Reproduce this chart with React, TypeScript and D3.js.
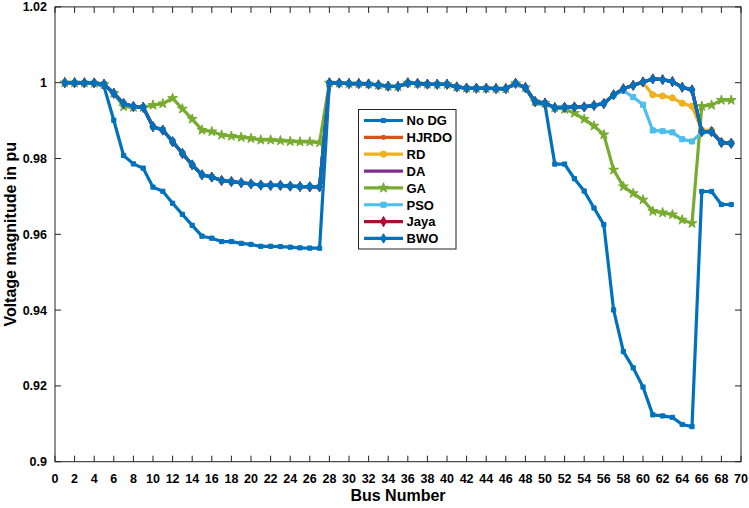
import React from "react";
import * as d3 from "d3";

const BUS: number[] = Array.from({ length: 69 }, (_, i) => i + 1);

const X_TICKS: number[] = [0,2,4,6,8,10,12,14,16,18,20,22,24,26,28,30,32,34,36,38,40,42,44,46,48,50,52,54,56,58,60,62,64,66,68,70];
const Y_TICKS: number[] = [0.9, 0.92, 0.94, 0.96, 0.98, 1, 1.02];
const Y_TICK_LABELS: string[] = ["0.9", "0.92", "0.94", "0.96", "0.98", "1", "1.02"];

const NO_DG = [
  1.0, 0.99997, 0.99993, 0.99984, 0.99902, 0.99009, 0.98079, 0.97858, 0.97745, 0.97245,
  0.97135, 0.96819, 0.96526, 0.96237, 0.9595, 0.95897, 0.95809, 0.95808, 0.95761, 0.95732,
  0.95683, 0.95683, 0.95676, 0.9566, 0.95643, 0.95636, 0.95634, 0.99993, 0.99985, 0.99973,
  0.99971, 0.99961, 0.99935, 0.99901, 0.99895, 0.99992, 0.99975, 0.99959, 0.99954, 0.99954,
  0.99884, 0.99855, 0.99851, 0.9985, 0.99841, 0.9984, 0.99979, 0.99854, 0.9947, 0.99415,
  0.97854, 0.97853, 0.97466, 0.97142, 0.96694, 0.96256, 0.94005, 0.92904, 0.92476, 0.91971,
  0.91236, 0.91207, 0.91169, 0.90982, 0.90925, 0.97129, 0.97129, 0.96786, 0.96786,
];

const HJRDO = [
  1.0, 0.99998, 0.99996, 0.99993, 0.9996, 0.9972, 0.9945, 0.9937, 0.9935, 0.9884,
  0.9875, 0.9845, 0.9814, 0.9783, 0.9757, 0.9751, 0.9742, 0.9739, 0.9736, 0.9733,
  0.973, 0.9729, 0.9729, 0.9727, 0.9726, 0.9726, 0.9725, 0.99996, 0.9999, 0.99978,
  0.99976, 0.99966, 0.9994, 0.99906, 0.999, 0.99995, 0.99978, 0.99962, 0.99957, 0.99957,
  0.99887, 0.99858, 0.99854, 0.99853, 0.99844, 0.99843, 0.99982, 0.9987, 0.995, 0.9946,
  0.9934, 0.9935, 0.9936, 0.9936, 0.994, 0.9945, 0.9968, 0.9984, 0.9993, 1.0002,
  1.001, 1.0008, 1.0003, 0.9988, 0.9981, 0.9871, 0.9871, 0.9842, 0.984,
];

const RD = [
  1.0, 0.99998, 0.99996, 0.99993, 0.9996, 0.9972, 0.9945, 0.9937, 0.9935, 0.9884,
  0.9875, 0.9845, 0.9814, 0.9783, 0.9757, 0.9751, 0.9742, 0.9739, 0.9736, 0.9733,
  0.973, 0.9729, 0.9729, 0.9727, 0.9726, 0.9726, 0.9725, 0.99996, 0.9999, 0.99978,
  0.99976, 0.99966, 0.9994, 0.99906, 0.999, 0.99995, 0.99978, 0.99962, 0.99957, 0.99957,
  0.99887, 0.99858, 0.99854, 0.99853, 0.99844, 0.99843, 0.99982, 0.9987, 0.995, 0.9946,
  0.9934, 0.9935, 0.9936, 0.9936, 0.994, 0.9945, 0.9968, 0.9984, 0.9993, 1.0,
  0.9968, 0.9965, 0.996, 0.9946, 0.9938, 0.9875, 0.9874, 0.9843, 0.9841,
];

const DA = [
  1.0, 0.99998, 0.99996, 0.99993, 0.9996, 0.9972, 0.9945, 0.9937, 0.9935, 0.9884,
  0.9875, 0.9845, 0.9814, 0.9783, 0.9757, 0.9751, 0.9742, 0.9739, 0.9736, 0.9733,
  0.973, 0.9729, 0.9729, 0.9727, 0.9726, 0.9726, 0.9725, 0.99996, 0.9999, 0.99978,
  0.99976, 0.99966, 0.9994, 0.99906, 0.999, 0.99995, 0.99978, 0.99962, 0.99957, 0.99957,
  0.99887, 0.99858, 0.99854, 0.99853, 0.99844, 0.99843, 0.99982, 0.9987, 0.995, 0.9946,
  0.9934, 0.9935, 0.9936, 0.9936, 0.994, 0.9945, 0.9968, 0.9984, 0.9993, 1.0002,
  1.001, 1.0008, 1.0003, 0.9988, 0.9981, 0.9871, 0.9871, 0.9842, 0.984,
];

const GA = [
  1.0, 0.99998, 0.99995, 0.9999, 0.9996, 0.9972, 0.9937, 0.9935, 0.9935, 0.9941,
  0.9945, 0.9959, 0.9931, 0.9904, 0.9875, 0.9871, 0.9862, 0.9859, 0.9856, 0.9853,
  0.9849, 0.9849, 0.9847, 0.9845, 0.9844, 0.9844, 0.9842, 0.99996, 0.9999, 0.99978,
  0.99976, 0.99966, 0.9994, 0.99906, 0.999, 0.99995, 0.99978, 0.99962, 0.99957, 0.99957,
  0.99887, 0.99858, 0.99854, 0.99853, 0.99844, 0.99843, 0.99982, 0.9987, 0.995, 0.9946,
  0.9934, 0.993, 0.992, 0.9904, 0.9886, 0.9863, 0.977, 0.9726, 0.9708, 0.9691,
  0.9661, 0.9657, 0.9652, 0.9638, 0.9629, 0.9938, 0.9941, 0.9954, 0.9954,
];

const PSO = [
  1.0, 0.99998, 0.99996, 0.99993, 0.9996, 0.9972, 0.9945, 0.9937, 0.9935, 0.9884,
  0.9875, 0.9845, 0.9814, 0.9783, 0.9757, 0.9751, 0.9742, 0.9739, 0.9736, 0.9733,
  0.973, 0.9729, 0.9729, 0.9727, 0.9726, 0.9726, 0.9725, 0.99996, 0.9999, 0.99978,
  0.99976, 0.99966, 0.9994, 0.99906, 0.999, 0.99995, 0.99978, 0.99962, 0.99957, 0.99957,
  0.99887, 0.99858, 0.99854, 0.99853, 0.99844, 0.99843, 0.99982, 0.9987, 0.995, 0.9946,
  0.9934, 0.9935, 0.9936, 0.9936, 0.994, 0.9945, 0.9967, 0.9979, 0.9962, 0.9942,
  0.9874, 0.9872, 0.9869, 0.9851, 0.9845, 0.9869, 0.9869, 0.9842, 0.984,
];

const JAYA = [
  1.0, 0.99998, 0.99996, 0.99993, 0.9996, 0.9972, 0.9945, 0.9937, 0.9935, 0.9884,
  0.9875, 0.9844, 0.9813, 0.9783, 0.9757, 0.9751, 0.9742, 0.9739, 0.9736, 0.9733,
  0.973, 0.9729, 0.9729, 0.9727, 0.9726, 0.9725, 0.9725, 0.99996, 0.9999, 0.99978,
  0.99976, 0.99966, 0.9994, 0.99906, 0.999, 0.99995, 0.99978, 0.99962, 0.99957, 0.99957,
  0.99887, 0.99858, 0.99854, 0.99853, 0.99844, 0.99843, 0.99982, 0.9987, 0.995, 0.9946,
  0.9934, 0.9935, 0.9936, 0.9936, 0.994, 0.9945, 0.9968, 0.9984, 0.9993, 1.0002,
  1.001, 1.0008, 1.0003, 0.9988, 0.9981, 0.9871, 0.9871, 0.9842, 0.984,
];

const BWO = [
  1.0, 0.99998, 0.99996, 0.99993, 0.9996, 0.9972, 0.9945, 0.9937, 0.9935, 0.9884,
  0.9875, 0.9845, 0.9814, 0.9783, 0.9757, 0.9751, 0.9742, 0.9739, 0.9736, 0.9733,
  0.973, 0.9729, 0.9729, 0.9727, 0.9726, 0.9726, 0.9725, 0.99996, 0.9999, 0.99978,
  0.99976, 0.99966, 0.9994, 0.99906, 0.999, 0.99995, 0.99978, 0.99962, 0.99957, 0.99957,
  0.99887, 0.99858, 0.99854, 0.99853, 0.99844, 0.99843, 0.99982, 0.9987, 0.995, 0.9946,
  0.9934, 0.9935, 0.9936, 0.9936, 0.994, 0.9945, 0.9968, 0.9984, 0.9993, 1.0002,
  1.001, 1.0008, 1.0003, 0.9988, 0.9981, 0.9871, 0.9871, 0.9842, 0.984,
];

const SERIES_NAMES = ["No DG", "HJRDO", "RD", "DA", "GA", "PSO", "Jaya", "BWO"];
const SERIES_VALUES = [NO_DG, HJRDO, RD, DA, GA, PSO, JAYA, BWO];
const SERIES_COLORS = ["#0072BD", "#D95319", "#EDB120", "#7E2F8E", "#77AC30", "#4DBEEE", "#A2142F", "#0072BD"];

const MARKERS: ({ type: d3.SymbolType; size: number } | null)[] = [
  { type: d3.symbolSquare, size: 18 },
  { type: d3.symbolCircle, size: 14 },
  { type: d3.symbolCircle, size: 30 },
  null,
  { type: d3.symbolStar, size: 30 },
  { type: d3.symbolSquare, size: 26 },
  { type: d3.symbolDiamond, size: 30 },
  { type: d3.symbolDiamond, size: 26 },
];

const W = 749;
const H = 508;
const LEFT = 55;
const RIGHT = 741;
const TOP = 6.9;
const BOTTOM = 461.7;
const FONT = "'Liberation Sans', Arial, Helvetica, sans-serif";

export default function App() {
  const x = d3.scaleLinear().domain([0, 70]).range([LEFT, RIGHT]);
  const y = d3.scaleLinear().domain([0.9, 1.02]).range([BOTTOM, TOP]);
  const line = d3
    .line<number>()
    .x((_, i) => x(BUS[i]))
    .y((d) => y(d));

  const legX = 358.5;
  const legY = 109.5;
  const legW = 97.5;
  const legH = 139.5;
  const rowStart = 120.5;
  const rowGap = 16.85;

  return (
    <div style={{ position: "absolute", left: 0, top: 0 }}>
      <svg width={W} height={H} style={{ display: "block", background: "#fff" }}>
        <rect x={0} y={0} width={W} height={H} fill="#fff" />
        <defs>
          <clipPath id="plotclip">
            <rect x={LEFT} y={TOP - 4} width={RIGHT - LEFT + 4} height={BOTTOM - TOP + 4} />
          </clipPath>
        </defs>
        <g clipPath="url(#plotclip)">
          {SERIES_VALUES.map((vals, si) => {
            const m = MARKERS[si];
            const sym = m ? d3.symbol().type(m.type).size(m.size)() : null;
            return (
              <g key={SERIES_NAMES[si]}>
                <path
                  d={line(vals) || ""}
                  fill="none"
                  stroke={SERIES_COLORS[si]}
                  strokeWidth={3.2}
                  strokeLinejoin="round"
                />
                {sym &&
                  vals.map((v, i) => (
                    <path
                      key={i}
                      d={sym || ""}
                      transform={`translate(${x(BUS[i])},${y(v)})`}
                      fill={SERIES_COLORS[si]}
                      stroke={SERIES_COLORS[si]}
                      strokeWidth={1}
                    />
                  ))}
              </g>
            );
          })}
        </g>

        <rect x={LEFT} y={TOP} width={RIGHT - LEFT} height={BOTTOM - TOP} fill="none" stroke="#222" strokeWidth={1} />

        {X_TICKS.map((t) => (
          <g key={"x" + t}>
            <line x1={x(t)} x2={x(t)} y1={BOTTOM} y2={BOTTOM - 6} stroke="#222" strokeWidth={1} />
            <line x1={x(t)} x2={x(t)} y1={TOP} y2={TOP + 6} stroke="#222" strokeWidth={1} />
            <text
              x={x(t)}
              y={483}
              textAnchor="middle"
              fontFamily={FONT}
              fontWeight="bold"
              fontSize={12.5}
              fill="#000"
            >
              {t}
            </text>
          </g>
        ))}

        {Y_TICKS.map((t, i) => (
          <g key={"y" + t}>
            <line x1={LEFT} x2={LEFT + 6} y1={y(t)} y2={y(t)} stroke="#222" strokeWidth={1} />
            <line x1={RIGHT} x2={RIGHT - 6} y1={y(t)} y2={y(t)} stroke="#222" strokeWidth={1} />
            <text
              x={LEFT - 8}
              y={y(t) + 4.5}
              textAnchor="end"
              fontFamily={FONT}
              fontWeight="bold"
              fontSize={12.5}
              fill="#000"
            >
              {Y_TICK_LABELS[i]}
            </text>
          </g>
        ))}

        <text
          x={(LEFT + RIGHT) / 2}
          y={501}
          textAnchor="middle"
          fontFamily={FONT}
          fontWeight="bold"
          fontSize={16}
          fill="#000"
        >
          Bus Number
        </text>
        <text
          transform={`translate(16,${(TOP + BOTTOM) / 2}) rotate(-90)`}
          textAnchor="middle"
          fontFamily={FONT}
          fontWeight="bold"
          fontSize={16}
          fill="#000"
        >
          Voltage magnitude in pu
        </text>

        <rect x={legX} y={legY} width={legW} height={legH} fill="#fff" stroke="#222" strokeWidth={1} />
        {SERIES_NAMES.map((name, si) => {
          const ry = rowStart + si * rowGap;
          const m = MARKERS[si];
          const sym = m ? d3.symbol().type(m.type).size(m.size)() : null;
          return (
            <g key={"leg" + name}>
              <line x1={364} x2={403} y1={ry} y2={ry} stroke={SERIES_COLORS[si]} strokeWidth={3.2} />
              {sym && (
                <path
                  d={sym}
                  transform={`translate(383.5,${ry})`}
                  fill={SERIES_COLORS[si]}
                  stroke={SERIES_COLORS[si]}
                  strokeWidth={1}
                />
              )}
              <text
                x={406.5}
                y={ry + 4.8}
                fontFamily={FONT}
                fontWeight="bold"
                fontSize={13}
                fill="#000"
              >
                {name}
              </text>
            </g>
          );
        })}
      </svg>
    </div>
  );
}
